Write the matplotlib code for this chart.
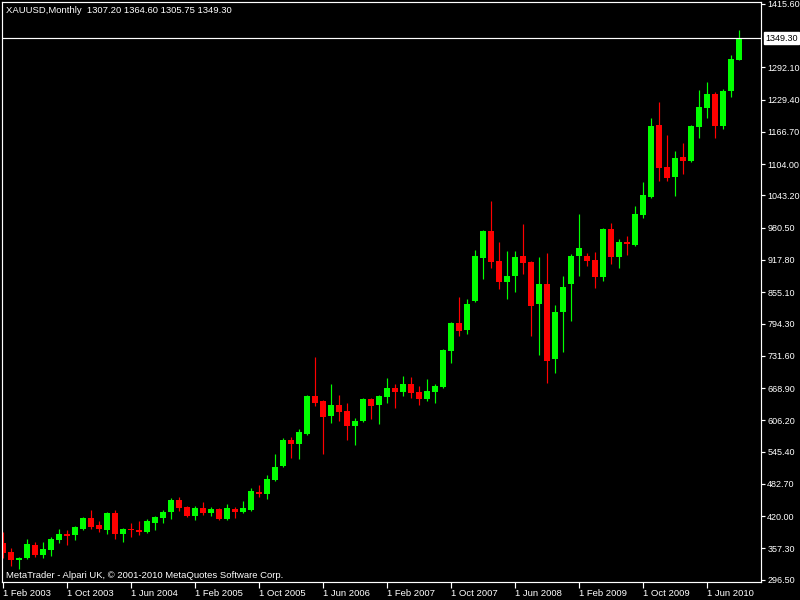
import matplotlib
matplotlib.use("Agg")
import matplotlib.pyplot as plt
import matplotlib.transforms as mtransforms

plt.rcParams['font.family'] = ['Liberation Sans', 'DejaVu Sans']

# Monthly XAUUSD candles, Feb 2003 .. Oct 2010
opens = [368.3, 350.8, 335.3, 339.0, 364.4, 345.0, 354.7, 374.3, 385.8, 383.9, 395.5,
         416.9, 403.2, 393.5, 426.6, 385.8, 395.5, 393.5, 389.7, 407.0, 416.9, 428.5, 452.0,
         438.2, 420.8, 436.3, 426.6, 434.4, 414.9, 434.4, 428.5, 432.4, 467.0, 463.0, 490.7,
         518.0, 568.5, 560.7, 580.0, 654.0, 644.0, 615.0, 636.5, 624.8, 595.6, 605.4, 648.0,
         636.5, 652.0, 669.5, 661.7, 677.0, 661.7, 648.0, 661.7, 671.4, 741.4, 795.8, 782.0,
         838.5, 922.0, 974.5, 916.0, 875.4, 887.0, 926.0, 914.0, 832.7, 871.5, 726.0, 817.0,
         871.5, 926.0, 926.0, 918.0, 885.0, 978.5, 924.0, 953.2, 947.3, 1005.6, 1041.0, 1180.5,
         1099.0, 1080.0, 1118.3, 1111.0, 1177.0, 1214.0, 1240.7, 1179.0, 1247.0, 1307.20]
highs = [389.7, 358.6, 341.0, 376.0, 370.3, 370.3, 380.0, 395.5, 393.5, 401.3, 418.8,
         432.4, 411.0, 428.5, 432.4, 397.5, 407.0, 411.0, 414.9, 420.8, 432.4, 455.7, 457.7,
         440.0, 440.0, 448.0, 438.0, 436.3, 444.0, 438.0, 450.0, 475.0, 481.0, 500.4, 541.0,
         572.3, 574.0, 589.8, 655.9, 729.7, 646.0, 677.0, 655.9, 640.0, 611.0, 649.0, 650.0,
         656.0, 688.9, 677.0, 692.8, 690.8, 673.4, 686.9, 677.0, 745.0, 797.7, 846.0, 842.5,
         937.6, 976.5, 1032.8, 953.0, 935.7, 936.0, 988.0, 916.0, 924.0, 931.8, 830.7, 887.0,
         930.0, 1007.5, 932.0, 933.7, 980.5, 990.0, 959.0, 965.0, 1023.0, 1069.7, 1194.0, 1225.0,
         1161.0, 1130.0, 1145.5, 1180.5, 1248.5, 1264.0, 1244.6, 1250.5, 1316.5, 1364.60]
lows = [339.0, 323.6, 317.8, 337.1, 341.0, 339.0, 343.0, 368.3, 364.4, 374.3, 393.5,
        395.5, 389.7, 385.8, 376.0, 370.3, 380.0, 383.9, 387.8, 393.5, 407.0, 414.9, 430.5,
        418.8, 413.0, 422.7, 420.8, 413.0, 413.0, 416.9, 426.6, 430.5, 457.7, 453.8, 488.8,
        516.0, 533.5, 531.5, 578.0, 634.5, 541.0, 601.5, 605.4, 568.5, 558.7, 603.4, 609.0,
        599.5, 640.0, 630.6, 654.0, 650.0, 636.5, 644.0, 640.0, 669.5, 718.0, 770.5, 774.0,
        836.0, 881.0, 902.7, 860.5, 842.5, 856.0, 891.0, 770.5, 733.6, 679.0, 698.6, 739.5,
        800.0, 887.0, 906.5, 863.8, 877.4, 910.4, 902.7, 928.0, 945.4, 1000.0, 1039.0, 1072.3,
        1072.0, 1043.0, 1084.0, 1109.0, 1154.0, 1194.7, 1155.8, 1173.0, 1235.5, 1305.75]
closes = [348.9, 335.3, 339.0, 366.4, 345.0, 356.7, 376.0, 385.8, 381.9, 399.4, 416.9,
          399.4, 395.5, 426.6, 385.8, 395.5, 393.5, 389.7, 411.0, 418.8, 428.5, 452.0, 436.3,
          420.8, 436.3, 426.6, 434.4, 414.9, 436.3, 428.5, 436.3, 469.0, 463.0, 491.5, 516.0,
          568.5, 560.7, 584.0, 654.0, 640.0, 613.0, 636.5, 622.8, 595.6, 605.4, 648.0, 634.5,
          654.0, 669.5, 661.7, 677.0, 659.8, 648.0, 663.6, 673.4, 743.0, 795.8, 780.0, 832.7,
          926.0, 974.5, 914.3, 875.4, 887.0, 924.0, 912.0, 828.8, 871.5, 722.0, 817.0, 865.7,
          926.0, 941.5, 916.0, 885.0, 978.5, 924.0, 953.2, 949.3, 1007.6, 1044.5, 1178.6, 1097.5,
          1078.0, 1116.4, 1111.0, 1178.6, 1215.5, 1240.7, 1179.0, 1246.6, 1308.7, 1349.30]

date_labels = ['1 Feb 2003', '1 Oct 2003', '1 Jun 2004', '1 Feb 2005', '1 Oct 2005',
               '1 Jun 2006', '1 Feb 2007', '1 Oct 2007', '1 Jun 2008', '1 Feb 2009',
               '1 Oct 2009', '1 Jun 2010']
price_ticks = [1415.60, 1292.10, 1229.40, 1166.70, 1104.00, 1043.20, 980.50, 917.80,
               855.10, 794.30, 731.60, 668.90, 606.20, 545.40, 482.70, 420.00, 357.30, 296.50]
last_price = 1349.30
title = 'XAUUSD,Monthly  1307.20 1364.60 1305.75 1349.30'
watermark = 'MetaTrader - Alpari UK, \u00a9 2001-2010 MetaQuotes Software Corp.'

fs = 6.8      # title, watermark, dates
fs_y = 6.5    # price scale

fig = plt.figure(figsize=(8, 6), dpi=100, facecolor='black')
ax = fig.add_axes([2 / 800, 18 / 600, 759 / 800, 580 / 600])
ax.set_facecolor('black')

x = list(range(len(opens)))
colors = ['#00ff00' if c >= o else '#ff0000' for o, c in zip(opens, closes)]
bottoms = [min(o, c) for o, c in zip(opens, closes)]
heights = [max(abs(c - o), 1.8) for o, c in zip(opens, closes)]

ax.vlines(x, lows, highs, colors=colors, linewidth=0.85)
ax.bar(x, heights, width=0.66, bottom=bottoms, color=colors, linewidth=0)

# current price line and its label
ax.axhline(last_price, color='white', linewidth=0.85)
trans = mtransforms.blended_transform_factory(ax.transAxes, ax.transData)
ax.text(1.0 + 4 / 759, last_price, '%.2f' % last_price, transform=trans,
        ha='left', va='center', fontsize=fs_y, color='black',
        bbox=dict(boxstyle='square,pad=0.12', fc='white', ec='white'))

ax.set_xlim(-0.125, 94.75)
ax.set_ylim(291.8, 1419.3)

ax.yaxis.tick_right()
ax.set_yticks(price_ticks)
ax.set_yticklabels(['%.2f' % p for p in price_ticks])
ax.set_xticks(range(0, 8 * len(date_labels), 8))
ax.set_xticklabels(date_labels)
for lbl in ax.get_xticklabels():
    lbl.set_horizontalalignment('left')

ax.tick_params(axis='y', colors='white', length=3, width=0.85, pad=1.5, labelsize=fs_y)
ax.tick_params(axis='x', colors='white', length=4, width=0.85, pad=1, labelsize=fs)
for s in ax.spines.values():
    s.set_color('white')
    s.set_linewidth(0.85)

fig.text(6 / 800, 1 - 10.5 / 600, title, color='white', fontsize=fs, va='center')
fig.text(6 / 800, 1 - 575 / 600, watermark, color='white', fontsize=fs, va='center')

fig.savefig('out.png', dpi=100, facecolor='black')
